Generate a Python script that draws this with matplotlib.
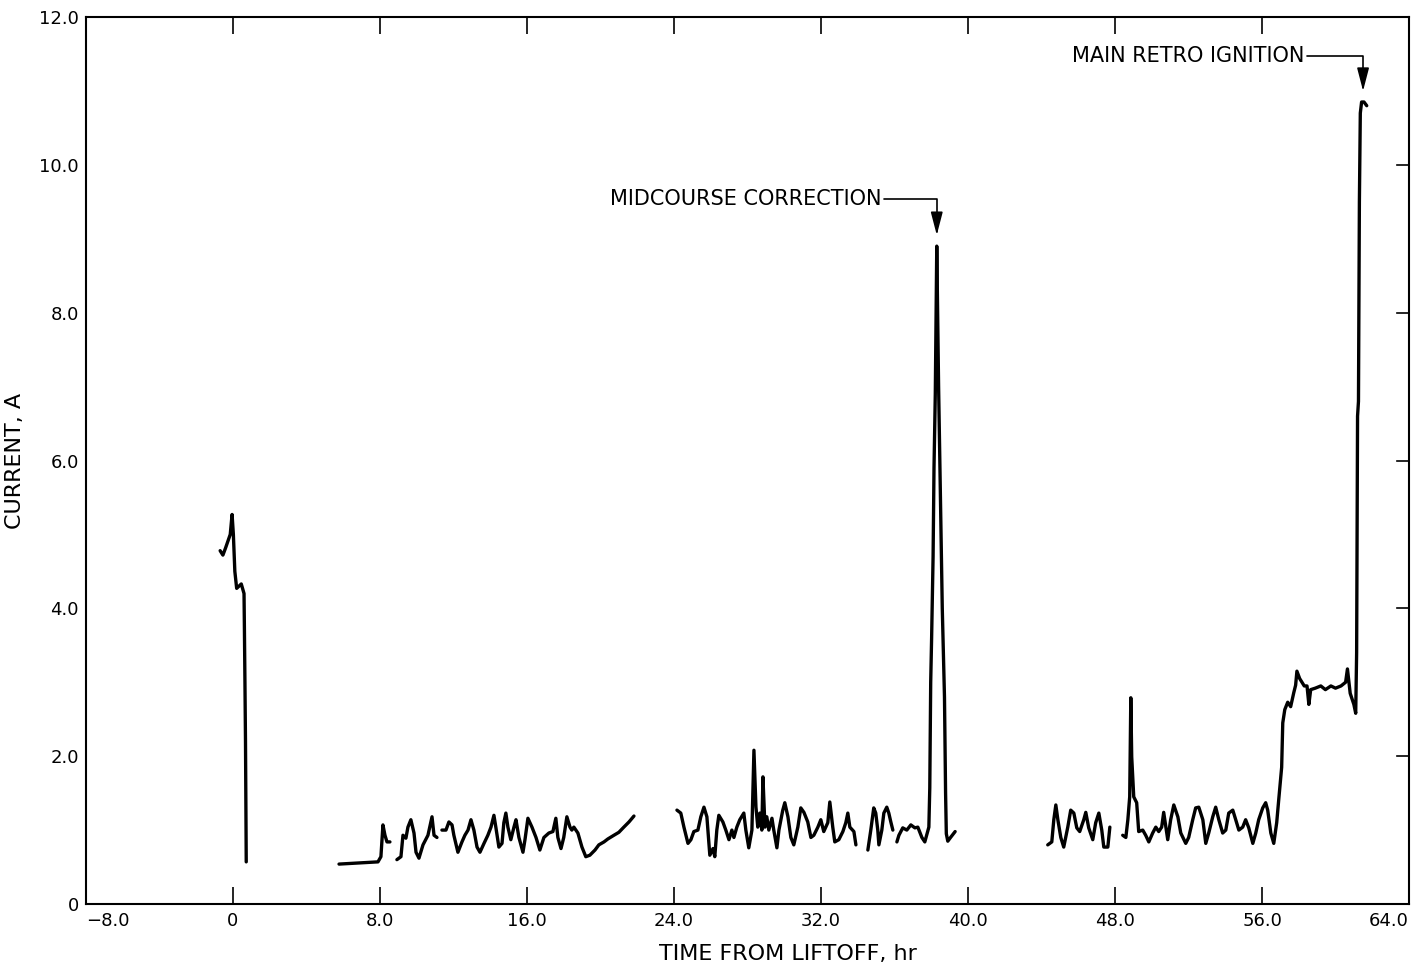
import matplotlib
matplotlib.use("Agg")
from matplotlib import pyplot as plt

# battery current trace (hours from liftoff, amperes)
# each piece is a separate stretch of telemetry
launch_t = [-0.7, -0.55, -0.4, -0.15, -0.05, 0.02, 0.1, 0.2, 0.45, 0.6, 0.62, 0.65, 0.68, 0.7, 0.72]
launch_a = [4.78, 4.72, 4.82, 5.0, 5.27, 5.0, 4.5, 4.27, 4.33, 4.2, 3.75, 3.0, 2.2, 1.4, 0.57]

cruise1_t = [5.77, 7.89, 8.05, 8.16, 8.27, 8.38, 8.54]
cruise1_a = [0.54, 0.57, 0.64, 1.07, 0.93, 0.84, 0.84]

cruise2_t = [8.92, 9.14, 9.25, 9.41, 9.52, 9.68, 9.85, 9.96, 10.12, 10.34, 10.61, 10.83, 10.94, 11.1]
cruise2_a = [0.6, 0.64, 0.93, 0.89, 1.04, 1.14, 0.96, 0.7, 0.62, 0.8, 0.93, 1.18, 0.93, 0.9]

cruise3_t = [11.37, 11.59, 11.75, 11.92, 12.02, 12.24, 12.46, 12.62, 12.79, 12.95, 13.11, 13.28,
             13.44, 13.66, 13.87, 14.04, 14.2, 14.31, 14.47, 14.64, 14.74, 14.85, 14.96, 15.12,
             15.29, 15.4, 15.56, 15.78, 15.89, 16.05, 16.27, 16.49, 16.7, 16.92, 17.19, 17.41,
             17.57, 17.68, 17.85, 18.0, 18.17, 18.34, 18.44, 18.55, 18.77, 18.99, 19.2, 19.42,
             19.7, 19.91, 20.19, 20.4, 20.73, 21.0, 21.27, 21.55, 21.82]
cruise3_a = [1.0, 1.0, 1.11, 1.07, 0.93, 0.7, 0.84, 0.93, 1.0, 1.14, 1.0, 0.77,
             0.7, 0.82, 0.93, 1.04, 1.2, 1.03, 0.77, 0.82, 1.1, 1.23, 1.04, 0.87,
             1.04, 1.14, 0.9, 0.7, 0.87, 1.16, 1.04, 0.9, 0.73, 0.9, 0.96, 0.98,
             1.16, 0.9, 0.75, 0.9, 1.18, 1.04, 1.0, 1.04, 0.96, 0.77, 0.64, 0.66,
             0.73, 0.8, 0.84, 0.88, 0.93, 0.97, 1.04, 1.11, 1.19]

cruise4_t = [24.16, 24.37, 24.54, 24.76, 24.92, 25.08, 25.3, 25.46, 25.63, 25.79, 25.9, 25.95,
             26.12, 26.22, 26.33, 26.44, 26.66, 26.82, 26.99, 27.15, 27.26, 27.42, 27.58, 27.8,
             27.91, 28.07, 28.24, 28.35, 28.46, 28.56, 28.67, 28.78, 28.84, 28.95, 29.05, 29.16,
             29.33, 29.43, 29.6, 29.71, 29.92, 30.03, 30.2, 30.36, 30.52, 30.74, 30.9, 31.07,
             31.28, 31.45, 31.61, 31.83, 31.99, 32.15, 32.37, 32.48, 32.64, 32.75, 32.97, 33.19,
             33.35, 33.46, 33.57, 33.79, 33.9]
cruise4_a = [1.27, 1.23, 1.04, 0.82, 0.87, 0.98, 1.0, 1.18, 1.31, 1.18, 0.82, 0.66,
             0.75, 0.64, 1.0, 1.2, 1.11, 1.0, 0.87, 1.0, 0.9, 1.04, 1.14, 1.23,
             1.0, 0.76, 1.0, 2.08, 1.31, 1.04, 1.23, 1.0, 1.72, 1.04, 1.18, 1.0,
             1.16, 1.0, 0.76, 1.0, 1.27, 1.37, 1.18, 0.9, 0.8, 1.04, 1.3, 1.24,
             1.11, 0.9, 0.93, 1.04, 1.14, 0.98, 1.1, 1.38, 1.04, 0.84, 0.87, 0.98,
             1.1, 1.23, 1.04, 0.98, 0.8]

cruise5_t = [34.55, 34.71, 34.87, 34.98, 35.09, 35.15, 35.31, 35.42, 35.58, 35.69, 35.8, 35.91]
cruise5_a = [0.73, 1.0, 1.3, 1.23, 1.0, 0.8, 1.0, 1.23, 1.31, 1.23, 1.11, 1.0]

midcourse_t = [36.13, 36.24, 36.45, 36.67, 36.89, 37.11, 37.27, 37.49, 37.65, 37.87, 37.92,
               37.97, 38.02, 38.1, 38.15, 38.22, 38.3, 38.4, 38.5, 38.6, 38.72, 38.78, 38.82,
               38.9, 39.05, 39.3]
midcourse_a = [0.84, 0.93, 1.03, 1.0, 1.07, 1.03, 1.04, 0.9, 0.84, 1.04, 1.57,
               3.0, 3.6, 4.7, 5.9, 6.9, 8.9, 7.0, 5.5, 4.0, 2.8, 1.5, 0.95,
               0.85, 0.9, 0.98]

cruise6_t = [44.34, 44.56, 44.67, 44.78, 44.89, 45.05, 45.21, 45.43, 45.59, 45.76, 45.92, 46.08,
             46.3, 46.41, 46.57, 46.79, 46.95, 47.12, 47.28, 47.39, 47.61, 47.72]
cruise6_a = [0.8, 0.84, 1.14, 1.34, 1.14, 0.9, 0.77, 1.04, 1.27, 1.23, 1.03, 0.98,
             1.14, 1.24, 1.03, 0.87, 1.1, 1.23, 1.0, 0.77, 0.77, 1.04]

retro_t = [48.42, 48.59, 48.7, 48.8, 48.86, 48.91, 49.02, 49.18, 49.29, 49.51, 49.67, 49.84,
           50.05, 50.22, 50.38, 50.54, 50.65, 50.87, 51.03, 51.2, 51.42, 51.58, 51.85, 52.01,
           52.23, 52.39, 52.56, 52.78, 52.94, 53.1, 53.32, 53.48, 53.65, 53.86, 54.03, 54.19,
           54.41, 54.57, 54.74, 54.95, 55.11, 55.28, 55.5, 55.66, 55.82, 56.04, 56.2, 56.31,
           56.48, 56.64, 56.8, 56.91, 57.07, 57.13, 57.24, 57.4, 57.56, 57.73, 57.83, 57.9,
           58.05, 58.3, 58.45, 58.55, 58.65, 58.9, 59.2, 59.45, 59.75, 60.0, 60.3, 60.55,
           60.65, 60.8, 61.0, 61.1, 61.15, 61.2, 61.25, 61.3, 61.35, 61.42, 61.55, 61.7]
retro_a = [0.93, 0.9, 1.14, 1.45, 2.79, 1.99, 1.45, 1.37, 0.98, 1.0, 0.93, 0.84,
           0.96, 1.04, 0.98, 1.04, 1.24, 0.87, 1.14, 1.34, 1.18, 0.96, 0.82, 0.9,
           1.14, 1.3, 1.31, 1.14, 0.82, 0.96, 1.18, 1.31, 1.14, 0.96, 1.0, 1.23,
           1.27, 1.14, 1.0, 1.04, 1.14, 1.03, 0.82, 0.96, 1.14, 1.3, 1.37, 1.27,
           0.96, 0.82, 1.1, 1.41, 1.85, 2.45, 2.63, 2.73, 2.67, 2.86, 2.96, 3.15,
           3.05, 2.95, 2.95, 2.7, 2.9, 2.92, 2.95, 2.9, 2.95, 2.92, 2.95, 3.0,
           3.18, 2.85, 2.7, 2.58, 3.4, 6.6, 6.8, 9.5, 10.7, 10.85, 10.85, 10.8]

pieces = [(launch_t, launch_a), (cruise1_t, cruise1_a), (cruise2_t, cruise2_a),
          (cruise3_t, cruise3_a), (cruise4_t, cruise4_a), (cruise5_t, cruise5_a),
          (midcourse_t, midcourse_a), (cruise6_t, cruise6_a), (retro_t, retro_a)]

x_ticks = [-8, 0, 8, 16, 24, 32, 40, 48, 56, 64]
x_labels = ["\u22128.0", "0", "8.0", "16.0", "24.0", "32.0", "40.0", "48.0", "56.0", "64.0"]
y_ticks = [0, 2, 4, 6, 8, 10, 12]
y_labels = ["0", "2.0", "4.0", "6.0", "8.0", "10.0", "12.0"]

fig = plt.figure(figsize=(14.25, 9.66), dpi=100)
ax = fig.add_axes([86 / 1425, 62 / 966, 1323 / 1425, 887 / 966])

for t, a in pieces:
    ax.plot(t, a, color="black", lw=2.4, solid_capstyle="round", solid_joinstyle="round")

ax.set_xlim(-8, 64)
ax.set_ylim(0, 12)

ax.set_xticks(x_ticks)
ax.set_xticklabels(x_labels, fontsize=13)
labs = ax.get_xticklabels()
labs[0].set_ha("left")
labs[-1].set_ha("right")
ax.set_yticks(y_ticks)
ax.set_yticklabels(y_labels, fontsize=13)

ax.tick_params(axis="x", direction="in", length=12, width=1.2, top=True, pad=6)
ax.tick_params(axis="y", direction="in", length=0, width=1.2, pad=5)
# short inward ticks on the right edge only
for v in y_ticks[1:-1]:
    ax.plot([63.35, 64], [v, v], color="black", lw=1.2, clip_on=False)
for s in ax.spines.values():
    s.set_linewidth(1.5)

ax.set_xlabel("TIME FROM LIFTOFF, hr", fontsize=16)
ax.xaxis.set_label_coords((788 - 86) / 1323, -0.045)
ax.set_ylabel("CURRENT, A", fontsize=16)
ax.yaxis.set_label_coords(-0.046, 0.5)

arrow = dict(arrowstyle="-|>,head_length=1.0,head_width=0.26", color="black", lw=1.2,
             connectionstyle="angle,angleA=0,angleB=90,rad=0", relpos=(1.0, 0.5),
             shrinkA=0, shrinkB=0, mutation_scale=14)
ax.annotate("MIDCOURSE CORRECTION", xy=(38.3, 9.05), xytext=(35.3, 9.54),
            ha="right", va="center", fontsize=15, arrowprops=arrow)
ax.annotate("MAIN RETRO IGNITION", xy=(61.5, 11.0), xytext=(58.3, 11.47),
            ha="right", va="center", fontsize=15, arrowprops=arrow)

fig.savefig("out.png", dpi=100)
